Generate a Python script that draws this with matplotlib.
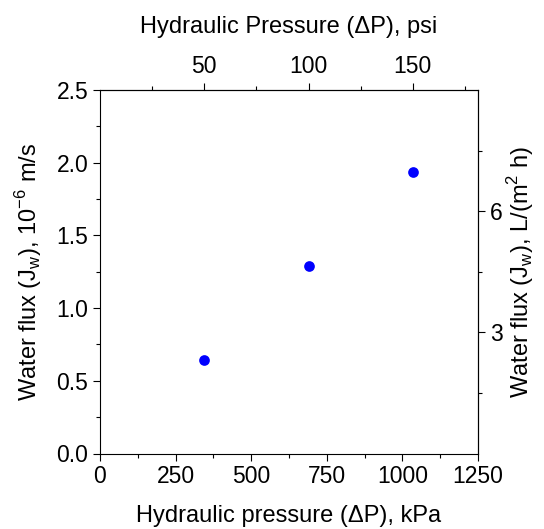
import numpy as np
import matplotlib.pyplot as plt
from matplotlib.ticker import MultipleLocator, FixedLocator

plt.rcParams['font.family'] = ['Liberation Sans', 'DejaVu Sans']
plt.rcParams['mathtext.fontset'] = 'custom'
plt.rcParams['mathtext.rm'] = 'Liberation Sans'

# measured points (kPa, 1e-6 m/s)
pressure_kpa = [345, 690, 1034]
water_flux = [0.645, 1.29, 1.937]

KPA_PER_PSI = 6.895
LMH_PER_UMS = 3.6   # 1e-6 m/s -> L/(m2 h)

TICK_FS = 16.5
LABEL_FS = 17

fig = plt.figure(figsize=(5.44, 5.29), dpi=100)
ax = fig.add_axes([100/544, 1 - 453.5/529, 378/544, 363.5/529])

ax.plot(pressure_kpa, water_flux, 'o', color='#0000ff', markersize=7.7, markeredgewidth=0)

ax.set_xlim(0, 1250)
ax.set_ylim(0, 2.5)
ax.xaxis.set_major_locator(MultipleLocator(250))
ax.xaxis.set_minor_locator(MultipleLocator(125))
ax.yaxis.set_major_locator(MultipleLocator(0.5))
ax.yaxis.set_minor_locator(MultipleLocator(0.25))
ax.set_yticklabels([f'{v:.1f}' for v in ax.get_yticks()])

ax.set_xlabel('Hydraulic pressure (ΔP), kPa', fontsize=LABEL_FS, labelpad=12)
ax.set_ylabel(r'Water flux (J$_\mathregular{w}$), 10$^\mathregular{-6}$ m/s', fontsize=LABEL_FS, labelpad=9)

top = ax.secondary_xaxis('top', functions=(lambda x: x / KPA_PER_PSI, lambda x: x * KPA_PER_PSI))
top.xaxis.set_major_locator(FixedLocator([50, 100, 150]))
top.xaxis.set_minor_locator(FixedLocator([25, 75, 125, 175]))
top.set_xlabel('Hydraulic Pressure (ΔP), psi', fontsize=LABEL_FS, labelpad=16)

right = ax.secondary_yaxis('right', functions=(lambda y: y * LMH_PER_UMS, lambda y: y / LMH_PER_UMS))
right.yaxis.set_major_locator(FixedLocator([3, 6]))
right.yaxis.set_minor_locator(FixedLocator([1.5, 4.5, 7.5]))
right.set_ylabel(r'Water flux (J$_\mathregular{w}$), L/(m$^\mathregular{2}$ h)', fontsize=LABEL_FS, labelpad=2)

for a in (ax, top, right):
    a.tick_params(which='major', direction='out', length=5, width=0.8, labelsize=TICK_FS)
    a.tick_params(which='minor', direction='out', length=3, width=0.8)
    for s in a.spines.values():
        s.set_linewidth(0.8)

fig.savefig('out.png', dpi=100)
